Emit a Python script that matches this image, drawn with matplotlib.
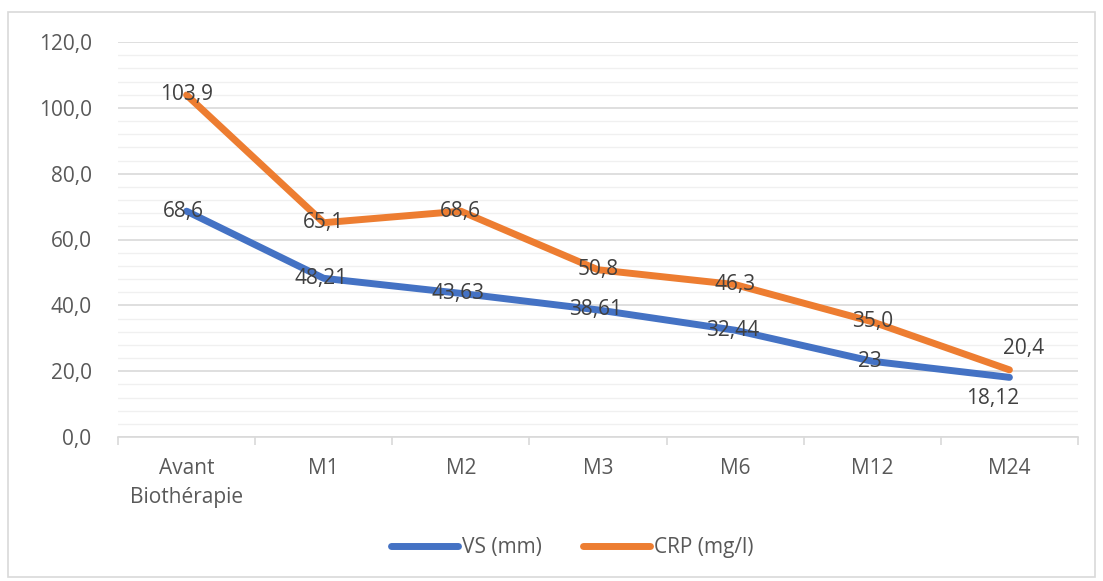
import matplotlib
matplotlib.use('Agg')
import matplotlib.pyplot as plt
from matplotlib.patches import Rectangle
from matplotlib.ticker import MultipleLocator, FuncFormatter

categories = ['Avant\nBiothérapie', 'M1', 'M2', 'M3', 'M6', 'M12', 'M24']
vs_values = [68.6, 48.21, 43.63, 38.61, 32.44, 23, 18.12]
crp_values = [103.9, 65.1, 68.6, 50.8, 46.3, 35.0, 20.4]
vs_labels = ['68,6', '48,21', '43,63', '38,61', '32,44', '23', '18,12']
crp_labels = ['103,9', '65,1', '68,6', '50,8', '46,3', '35,0', '20,4']

BLUE = '#4472c4'
ORANGE = '#ed7d31'
TXT = '#595959'
FS = 15

plt.rcParams['font.family'] = ['Open Sans', 'DejaVu Sans']

fig = plt.figure(figsize=(11.03, 5.81), dpi=100)
fig.patches.append(Rectangle((8 / 1103, 4 / 581), 1087 / 1103, 565 / 581,
                             transform=fig.transFigure, fill=False,
                             edgecolor='#d9d9d9', linewidth=1.2))

ax = fig.add_axes([118 / 1103, 1 - 437 / 581, 960 / 1103, 395 / 581])
x = list(range(len(categories)))

ax.plot(x, vs_values, color=BLUE, linewidth=5, solid_capstyle='round',
        label='VS (mm)', zorder=3)
ax.plot(x, crp_values, color=ORANGE, linewidth=5, solid_capstyle='round',
        label='CRP (mg/l)', zorder=3)

# data labels (centered on points, except the last ones)
for i, (v, t) in enumerate(zip(vs_values, vs_labels)):
    dx, dy = (-0.12, -6.5) if i == len(x) - 1 else (-0.02, 0)
    ax.text(i + dx, v + dy, t, ha='center', va='center', fontsize=FS,
            color='#404040', zorder=4)
for i, (v, t) in enumerate(zip(crp_values, crp_labels)):
    dx, dy = (0.1, 6.5) if i == len(x) - 1 else (0.0, 0)
    ax.text(i + dx, v + dy, t, ha='center', va='center', fontsize=FS,
            color='#404040', zorder=4)

ax.set_xlim(-0.5, len(x) - 0.5)
ax.set_ylim(0, 120)
ax.yaxis.set_major_locator(MultipleLocator(20))
ax.yaxis.set_minor_locator(MultipleLocator(4))
ax.yaxis.set_major_formatter(FuncFormatter(lambda v, p: f'{v:.1f}'.replace('.', ',')))
ax.grid(True, which='major', axis='y', color='#d9d9d9', linewidth=1.2)
ax.grid(True, which='minor', axis='y', color='#f0f0f0', linewidth=1.0)
ax.set_axisbelow(True)

ax.set_xticks(x)
ax.set_xticklabels(categories, fontsize=FS, color=TXT, linespacing=1.5)
ax.set_xticks([i - 0.5 for i in range(len(x) + 1)], minor=True)
ax.tick_params(axis='x', which='major', length=0, pad=15)
ax.tick_params(axis='x', which='minor', length=6, color='#d9d9d9', width=1.2)
ax.tick_params(axis='y', which='both', length=0, labelsize=FS, labelcolor=TXT, pad=19)

for s in ['top', 'right', 'left']:
    ax.spines[s].set_visible(False)
ax.spines['bottom'].set_color('#d9d9d9')
ax.spines['bottom'].set_linewidth(1.2)

fig.legend(loc='center', bbox_to_anchor=(0.519, 1 - 548 / 581), ncol=2,
           frameon=False, fontsize=FS, labelcolor=TXT, handlelength=3.2,
           handletextpad=0.2, columnspacing=2.0)

plt.savefig('out.png', dpi=100)
plt.close()
